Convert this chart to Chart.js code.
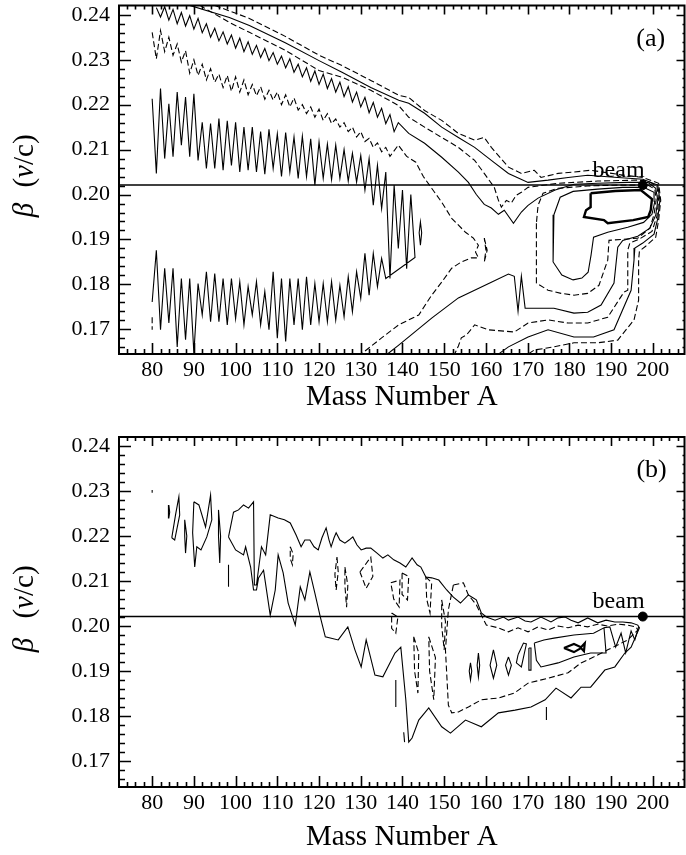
<!DOCTYPE html>
<html>
<head>
<meta charset="utf-8">
<script src="https://cdn.jsdelivr.net/npm/chart.js@4.4.0/dist/chart.umd.min.js"></script>
<style>
  html, body { margin: 0; padding: 0; background: #fff; overflow: hidden; }
  #wrap { position: relative; width: 686px; height: 855px; overflow: hidden; }
  canvas { position: absolute; left: 0; }
  #chartA { top: 0; }
  #chartB { top: 430px; }
</style>
</head>
<body>
<div id="wrap">
  <canvas id="chartA" width="690" height="430"></canvas>
  <canvas id="chartB" width="690" height="425"></canvas>
</div>
<script>
// axis ticks
const X_TICKS = [80, 90, 100, 110, 120, 130, 140, 150, 160, 170, 180, 190, 200];
const Y_TICKS = [0.17, 0.18, 0.19, 0.20, 0.21, 0.22, 0.23, 0.24];
const BEAM_BETA = 0.2021;
const BEAM_A = 197.6;

// ---- panel (a) contours, [A, beta] ----
const A_L1 = [
  [80,.2213],[81,.2047],[82,.2236],[83,.2080],[84,.2202],[85,.2084],[86,.2228],[87,.2110],[88,.2217],[89,.2084],
  [90,.2224],[91,.2076],[92,.2161],[93,.2058],[94,.2158],[95,.2058],[96,.2169],[97,.2054],[98,.2164],[99,.2065],
  [100,.2161],[101,.2050],[102,.2150],[103,.2054],[104,.2150],[105,.2050],[106,.2140],[107,.2045],[108,.2145],[109,.2058],
  [110,.2135],[111,.2040],[112,.2138],[113,.2050],[114,.2128],[115,.2036],[116,.2130],[117,.2040],[118,.2124],[119,.2021],
  [120,.2117],[121,.2036],[122,.2112],[123,.2033],[124,.2110],[125,.2036],[126,.2100],[127,.2030],[128,.2092],[129,.2028],
  [130,.2087],[131,.2010],[132,.2080],[133,.1976],[134,.2065],[135,.1969],[136,.2050],
  [137,.1813],[138,.2021],[139,.1880],[140,.2010],[141,.1835],[142,.2000],[143,.1860],
  [136,.1813],[135,.1858],[134,.1795],[133,.1869],[132,.1776],[131,.1869],[130,.1769],[129,.1828],[128,.1739],[127,.1817],
  [126,.1728],[125,.1798],[124,.1721],[123,.1806],[122,.1717],[121,.1802],[120,.1717],[119,.1802],[118,.1710],[117,.1817],
  [116,.1699],[115,.1813],[114,.1710],[113,.1813],[112,.1673],[111,.1813],[110,.1680],[109,.1828],[108,.1699],[107,.1784],
  [106,.1710],[105,.1806],[104,.1732],[103,.1795],[102,.1710],[101,.1806],[100,.1724],[99,.1813],[98,.1710],[97,.1813],
  [96,.1717],[95,.1824],[94,.1717],[93,.1828],[92,.1732],[91,.1802],[90,.1647],[89,.1813],[88,.1677],[87,.1813],
  [86,.1661],[85,.1836],[84,.1714],[83,.1836],[82,.1699],[81,.1876],[80,.1761]
];
const A_L1_LOOP = [[144.0,.1915],[144.3,.1939],[144.6,.1915],[144.3,.1887],[144.0,.1915]];
const A_DASH_BIT = [[80,.1727],[80,.1699]];

const A_D2 = [
  [80,.2361],[81,.2302],[82,.2365],[83,.2318],[84,.2350],[85,.2310],[86,.2335],[87,.2295],[88,.2320],[89,.2270],
  [90,.2300],[91,.2265],[92,.2290],[93,.2255],[94,.2280],[95,.2250],[96,.2268],[97,.2238],[98,.2265],[99,.2230],
  [100,.2262],[101,.2228],[102,.2255],[103,.2222],[104,.2245],[105,.2220],[106,.2240],[107,.2212],[108,.2232],[109,.2210],
  [110,.2228],[111,.2200],[112,.2222],[113,.2195],[114,.2215],[115,.2188],[116,.2200],[117,.2180],[118,.2195],[119,.2172],
  [120,.2190],[121,.2165],[122,.2180],[123,.2158],[124,.2168],[125,.2150],[126,.2160],[127,.2140],[128,.2150],[129,.2128],
  [130,.2140],[131,.2118],[132,.2125],[133,.2105],[134,.2115],[135,.2095],[136,.2105],[137,.2085],[139,.2110],[141,.2085],
  [143.2,.2072],[145,.2040],[147,.2014],[149.4,.1983],[151.8,.1947],[155.1,.1916],[157,.1903],[158.2,.1887],[157.5,.1872],
  [158.2,.1859],[156.5,.1859],[154.1,.1850],[151.8,.1836],[149.4,.1805],[147,.1776],[143.9,.1732],[139.1,.1710],
  [135,.1681],[130.8,.1650],[129.5,.1640]
];
const A_D2_TIP = [[159.6,.1903],[160.3,.1876],[159.6,.1850],[160.0,.1876],[159.6,.1903]];

const A_SMID = [
  [81,.2416],[82,.2395],[83,.2418],[84,.2388],[85,.2412],[86,.2380],[87,.2405],[88,.2375],[89,.2398],[90,.2368],
  [91,.2392],[92,.2360],[93,.2380],[94,.2350],[95,.2370],[96,.2342],[97,.2362],[98,.2335],[99,.2355],[100,.2326],
  [101,.2348],[102,.2318],[103,.2340],[104,.2312],[105,.2332],[106,.2305],[107,.2325],[108,.2298],[109,.2316],[110,.2290],
  [111,.2308],[112,.2282],[113,.2302],[114,.2272],[115,.2290],[116,.2262],[117,.2282],[118,.2252],[119,.2275],[120,.2245],
  [121,.2268],[122,.2236],[123,.2258],[124,.2228],[125,.2250],[126,.2218],[127,.2240],[128,.2206],[129,.2228],[130,.2195],
  [131,.2216],[132,.2182],[133,.2205],[134,.2172],[135,.2192],[136,.2158],[137,.2178],[138,.2140],[139,.2160],
  [141.5,.2136],[145.3,.2114],[149.4,.2083],[153.4,.2050],[155.8,.2027],[157.7,.2000],[159.6,.1978],[161.3,.1970],
  [163.0,.1956],[164.4,.1965],[166.6,.1936],[168.5,.1961],[170.1,.1976],[172.5,.1992],[176.6,.2010],[181.1,.2023],
  [186.8,.2025],[194.0,.2027],[198.8,.2027],[200.7,.2014],[201.2,.1987],[200.7,.1954],[199.3,.1925],[196.4,.1907],
  [192.8,.1898],[191.6,.1883],[190.7,.1803],[187.6,.1754],[184.4,.1738],[181.1,.1736],[176.3,.1747],[170.1,.1747],
  [169.4,.1747],[168.5,.1818],[167.7,.1740],[166.8,.1818],[165.4,.1823],[161.3,.1805],[153.4,.1770],[147.0,.1725],
  [139.1,.1665],[136.4,.1645],[135.5,.1638]
];

const A_DMID = [
  [91.4,.2421],[98.5,.2383],[103.3,.2361],[111.9,.2321],[120.0,.2276],[125.5,.2261],[132.4,.2232],[139.1,.2198],
  [141.5,.2172],[145.3,.2150],[149.4,.2127],[153.4,.2105],[157.3,.2076],[159.6,.2047],[162.0,.2016],[163.0,.1987],
  [163.7,.1972],[164.9,.1987],[166.1,.1981],[167.2,.1998],[168.5,.2005],[170.1,.2016],[177.3,.2025],[186.8,.2030],
  [196.4,.2032],[198.8,.2030],[201.0,.2019],[201.4,.1987],[201.0,.1952],[199.8,.1918],[196.8,.1901],[194.5,.1892],
  [194.0,.1876],[194.0,.1787],[193.1,.1783],[189.2,.1727],[184.4,.1714],[179.7,.1714],[174.9,.1721],[170.1,.1714],
  [166.8,.1694],[160.6,.1699],[157.3,.1710],[155.4,.1688],[154.1,.1681],[153.4,.1663],[152.5,.1645],[152.2,.1638]
];

const A_SOUT = [
  [89.0,.2421],[98.5,.2394],[103.3,.2376],[111.9,.2338],[120.0,.2298],[125.5,.2272],[132.4,.2238],[139.1,.2210],
  [141.5,.2203],[145.3,.2181],[149.4,.2150],[153.4,.2127],[157.3,.2105],[161.3,.2076],[165.4,.2047],[170.1,.2027],
  [174.9,.2032],[179.7,.2038],[184.4,.2043],[191.6,.2038],[197.6,.2034],[201.2,.2021],[201.7,.1987],[201.2,.1947],
  [200.3,.1912],[197.6,.1892],[195.7,.1881],[195.5,.1854],[194.8,.1787],[190.7,.1699],[185.8,.1683],[181.1,.1683],
  [174.9,.1699],[170.1,.1683],[165.4,.1661],[163.0,.1645],[162.5,.1638]
];

const A_DOUT = [
  [95.0,.2421],[103.3,.2392],[111.9,.2352],[120.0,.2310],[125.5,.2287],[132.4,.2254],[139.1,.2221],[141.5,.2216],
  [145.3,.2187],[149.4,.2165],[153.4,.2136],[157.3,.2121],[159.6,.2127],[161.3,.2105],[165.4,.2061],[168.5,.2047],
  [171.6,.2054],[173.2,.2038],[177.3,.2047],[181.1,.2050],[185.1,.2054],[191.6,.2045],[197.6,.2038],[201.4,.2025],
  [201.9,.1987],[201.4,.1943],[200.7,.1905],[198.3,.1885],[196.8,.1874],[196.6,.1854],[196.6,.1765],[195.5,.1721],
  [191.6,.1676],[186.8,.1670],[181.1,.1670],[176.3,.1661],[171.6,.1654],[170.1,.1645],[169.8,.1638]
];

const A_D1 = [
  [172.1,.1936],[172.1,.1803],[174.9,.1787],[178.0,.1780],[181.1,.1776],[184.4,.1780],[187.1,.1798],[189.2,.1854],
  [189.5,.1898],[196.4,.1903],[199.3,.1925],[200.3,.1956],[200.8,.1987],[200.5,.2012],[198.8,.2021],[191.6,.2021],
  [184.4,.2019],[177.3,.2014],[173.7,.2003],[172.5,.1976],[172.1,.1936]
];

const A_S1 = [
  [176.3,.1955],[176.1,.1850],[178.2,.1821],[180.9,.1810],[183.0,.1814],[184.5,.1827],[185.2,.1865],[185.8,.1905],
  [189.2,.1916],[194.0,.1927],[197.8,.1938],[199.8,.1956],[200.5,.1985],[200.3,.2005],[197.8,.2016],[192.8,.2016],
  [186.8,.2012],[180.9,.2007],[177.8,.1994],[176.3,.1955]
];

const A_THICK = [
  [185.1,.2003],[191.0,.2008],[197.1,.2010],[199.8,.1990],[199.5,.1965],[198.9,.1950],[195.3,.1943],[189.2,.1936],
  [188.3,.1943],[183.5,.1950],[184.0,.1965],[185.1,.1972],[185.1,.2003]
];

// ---- panel (b) contours ----
const B_OUTER = [
  [98.3,.2198],[99.5,.2253],[100.7,.2258],[101.9,.2269],[103.1,.2262],[104.3,.2276],[104.5,.2091],[105.0,.2091],
  [106.2,.2176],[107.2,.2158],[108.3,.2247],[110.2,.2240],[111.7,.2236],[113.1,.2229],[114.5,.2202],[115.7,.2176],
  [116.6,.2191],[117.8,.2191],[118.8,.2176],[119.8,.2169],[120.7,.2196],[121.7,.2218],[122.4,.2191],[122.9,.2176],
  [123.6,.2196],[124.1,.2207],[125.0,.2191],[126.2,.2184],[127.2,.2191],[128.1,.2198],[129.1,.2180],[130.1,.2169],
  [131.3,.2173],[132.4,.2173],[133.9,.2162],[135.3,.2151],[136.5,.2158],[137.9,.2147],[139.4,.2140],[140.8,.2131],
  [142.3,.2151],[143.5,.2136],[144.4,.2131],[145.6,.2109],[147.0,.2107],[148.7,.2102],[150.6,.2080],[152.2,.2064],
  [153.9,.2051],[155.8,.2069],[157.7,.2058],[158.9,.2029],[160.1,.2020],[162.2,.2013],[164.2,.2020],[165.4,.2013],
  [167.7,.2020],[169.4,.2011],[170.8,.2009],[173.2,.2020],[175.6,.2009],[177.3,.2018],[179.0,.2020],[180.4,.2013],
  [182.1,.2007],[184.4,.2018],[186.8,.2007],[188.8,.2013],[190.9,.2009],[192.8,.2009],[194.8,.2007],[196.4,.2002],
  [196.8,.1996],[194.8,.1953],[193.3,.1940],[190.9,.1909],[188.5,.1902],[185.1,.1864],[182.8,.1864],[180.4,.1840],
  [176.8,.1862],[174.2,.1836],[170.8,.1820],[167.0,.1813],[163.0,.1807],[158.9,.1776],[155.1,.1791],[151.5,.1762],
  [149.4,.1776],[146.3,.1818],[143.9,.1791],[142.3,.1751],[141.5,.1742],[140.8,.1836],[139.6,.1953],[138.2,.1940],
  [135.3,.1887],[133.4,.1891],[131.3,.1969],[130.1,.1909],[128.6,.1947],[126.9,.1998],[124.6,.1969],[121.5,.1976],
  [120.3,.2020],[119.0,.2073],[117.8,.2120],[116.6,.2058],[115.5,.2087],[114.3,.2002],[112.6,.2051],[111.4,.2118],
  [110.2,.2158],[109.5,.2080],[108.3,.2024],[106.7,.2124],[105.5,.2107],[105.0,.2080],[104.3,.2080],[103.6,.2131],
  [102.4,.2176],[101.9,.2158],[100.0,.2169],[98.3,.2198]
];

const B_DASH_MAIN = [
  [152.2,.2091],[154.6,.2096],[155.8,.2069],[157.7,.2047],[160.1,.2002],[163.0,.1996],[165.4,.1987],[167.7,.1996],
  [170.1,.1987],[172.5,.1998],[174.9,.1991],[177.3,.2000],[179.7,.1996],[182.1,.2002],[184.4,.1998],[186.8,.2004],
  [189.2,.2000],[191.6,.2004],[194.0,.2002],[196.0,.1998],[196.4,.1991],[194.0,.1969],[191.6,.1958],[189.2,.1947],
  [185.8,.1931],[182.8,.1918],[179.7,.1896],[174.9,.1884],[170.1,.1873],[166.8,.1851],[163.0,.1840],[158.9,.1836],
  [155.8,.1820],[153.4,.1809],[151.8,.1807],[151.0,.1824],[150.3,.1947],[151.0,.2036],[152.2,.2091]
];

const B_INNER = [
  [171.6,.1962],[173.9,.1969],[176.3,.1973],[181.1,.1980],[185.8,.1984],[188.3,.1996],[188.8,.1940],[185.1,.1940],
  [181.1,.1931],[177.3,.1918],[173.2,.1909],[172.1,.1924],[171.6,.1962]
];
const B_INNER_ZIG = [[188.3,.1996],[189.7,.1998],[191.1,.1953],[192.4,.1984],[193.5,.1940],[194.8,.1989],[195.7,.1969],[196.6,.1998]];
const B_FISH = [[178.7,.1951],[181.1,.1960],[182.8,.1953],[183.7,.1962],[183.5,.1944],[182.8,.1951],[181.1,.1942],[178.7,.1951]];

const B_SOLID_BITS = [
  [[80.0,.2302],[80.0,.2296]],
  [[84.0,.2269],[84.2,.2253],[84.0,.2240],[83.8,.2253],[84.0,.2269]],
  [[84.7,.2196],[85.6,.2247],[86.4,.2287],[86.6,.2247],[85.4,.2191],[84.7,.2196]],
  [[87.8,.2236],[88.3,.2200],[88.0,.2162],[87.8,.2200],[87.8,.2236]],
  [[90.0,.2276],[91.2,.2269],[92.8,.2220],[94.0,.2291],[94.3,.2236],[93.1,.2198],[91.7,.2169],[90.7,.2176],[90.2,.2131],[89.7,.2207],[90.0,.2276]],
  [[95.9,.2258],[96.4,.2200],[96.2,.2140],[95.9,.2200],[95.9,.2258]],
  [[98.3,.2136],[98.3,.2087]],
  [[138.4,.1880],[138.4,.1820]],
  [[140.3,.1764],[140.5,.1742]],
  [[174.5,.1820],[174.5,.1791]],
  [[156.3,.1918],[156.6,.1900],[156.3,.1880],[156.0,.1900],[156.3,.1918]],
  [[158.2,.1940],[158.5,.1913],[158.2,.1887],[157.9,.1913],[158.2,.1940]],
  [[161.8,.1947],[162.6,.1913],[161.8,.1884],[161.0,.1913],[161.8,.1947]],
  [[165.4,.1931],[166.1,.1913],[165.4,.1891],[164.7,.1913],[165.4,.1931]],
  [[167.7,.1936],[169.0,.1962],[169.7,.1960],[168.5,.1909],[167.3,.1918],[167.7,.1936]],
  [[170.3,.1951],[170.8,.1951],[170.8,.1902],[170.3,.1902],[170.3,.1951]]
];

const B_DASH_BITS = [
  [[113.1,.2176],[113.8,.2160],[113.6,.2136],[113.1,.2150],[113.1,.2176]],
  [[124.3,.2153],[124.6,.2120],[124.1,.2080],[123.8,.2115],[124.3,.2153]],
  [[126.2,.2131],[126.9,.2090],[126.6,.2042],[126.2,.2090],[126.2,.2131]],
  [[129.8,.2120],[132.4,.2153],[132.9,.2110],[131.3,.2084],[129.8,.2120]],
  [[137.2,.2096],[139.4,.2102],[139.2,.2042],[137.9,.2060],[137.2,.2096]],
  [[137.4,.2029],[138.9,.2020],[138.4,.1984],[137.4,.1995],[137.4,.2029]],
  [[139.9,.2118],[141.5,.2110],[141.2,.2058],[139.9,.2070],[139.9,.2118]],
  [[142.7,.1976],[143.9,.1940],[143.7,.1851],[142.9,.1900],[142.7,.1976]],
  [[145.6,.2109],[147.0,.2096],[146.6,.2029],[145.8,.2060],[145.6,.2109]],
  [[146.3,.1976],[147.9,.1930],[147.5,.1836],[146.5,.1900],[146.3,.1976]],
  [[149.4,.2058],[150.3,.2010],[150.0,.1947],[149.4,.2000],[149.4,.2058]]
];

const FONT = 'Liberation Serif';

function contour(points, dashed, width) {
  return {
    data: points.map(([a, b]) => ({ x: a, y: b })),
    showLine: true,
    pointRadius: 0,
    borderColor: '#000',
    borderWidth: width || 1.1,
    borderDash: dashed ? [6, 3] : [],
    tension: 0,
    fill: false
  };
}

function beamLine() {
  return {
    data: [{ x: 60, y: BEAM_BETA }, { x: 220, y: BEAM_BETA }],
    showLine: true, pointRadius: 0, borderColor: '#000', borderWidth: 1.5
  };
}

function beamDot() {
  return {
    data: [{ x: BEAM_A, y: BEAM_BETA }],
    showLine: false, pointRadius: 4.5, pointBackgroundColor: '#000', pointBorderColor: '#000'
  };
}

// frame, inward ticks, labels
const decorations = {
  id: 'decorations',
  afterDatasetsDraw(chart, args, opts) {
    const { ctx, chartArea: { left, right, top, bottom }, scales: { x, y } } = chart;
    ctx.save();
    ctx.strokeStyle = '#000';
    ctx.fillStyle = '#000';

    ctx.lineWidth = 1.6;
    ctx.beginPath();
    for (let v = 74; v <= 206; v += 2) {
      const px = Math.round(x.getPixelForValue(v)) + 0.5;
      const major = v % 10 === 0;
      ctx.moveTo(px, bottom); ctx.lineTo(px, bottom - (major ? 11 : 5));
      ctx.moveTo(px, top); ctx.lineTo(px, top + (major ? 9 : 4));
    }
    for (let i = 83; i <= 120; i++) {
      const v = i * 0.002;
      const py = Math.round(y.getPixelForValue(v)) + 0.5;
      if (py < top + 2 || py > bottom - 2) continue;
      const major = i % 5 === 0;
      ctx.moveTo(left, py); ctx.lineTo(left + (major ? 12 : 6), py);
      ctx.moveTo(right, py); ctx.lineTo(right - (major ? 8 : 2), py);
    }
    ctx.stroke();

    ctx.lineWidth = 2;
    ctx.strokeRect(left, top, right - left, bottom - top);

    // panel label
    ctx.font = '26px "' + FONT + '"';
    ctx.textAlign = 'center';
    ctx.textBaseline = 'middle';
    ctx.fillText(opts.label, x.getPixelForValue(opts.labelAt[0]), y.getPixelForValue(opts.labelAt[1]));

    // beam text
    ctx.font = '24px "' + FONT + '"';
    ctx.textBaseline = 'alphabetic';
    ctx.fillText('beam', x.getPixelForValue(opts.beamAt[0]), y.getPixelForValue(opts.beamAt[1]));

    // y title: beta (v/c)
    ctx.translate(25, 0);
    ctx.rotate(-Math.PI / 2);
    ctx.textBaseline = 'middle';
    ctx.textAlign = 'center';
    ctx.font = 'italic 29px "' + FONT + '"';
    ctx.fillText('\u03B2', -opts.betaY, 0);
    const parts = [['(', ''], ['v', 'italic '], ['/c)', '']];
    let total = 0;
    parts.forEach(([t, s]) => { ctx.font = s + '29px "' + FONT + '"'; total += ctx.measureText(t).width; });
    let pos = -opts.vcY - total / 2;
    ctx.textAlign = 'left';
    parts.forEach(([t, s]) => {
      ctx.font = s + '29px "' + FONT + '"';
      ctx.fillText(t, pos, 0);
      pos += ctx.measureText(t).width;
    });
    ctx.restore();
  }
};

function makePanel(id, datasets, cfg) {
  return new Chart(document.getElementById(id), {
    type: 'scatter',
    data: { datasets },
    options: {
      responsive: false,
      animation: false,
      devicePixelRatio: 1,
      layout: { padding: { left: 0, right: 3, top: cfg.padTop, bottom: 0 } },
      plugins: {
        legend: { display: false },
        tooltip: { enabled: false },
        decorations: cfg.deco
      },
      scales: {
        x: {
          type: 'linear', min: 72.05, max: 207.6,
          afterBuildTicks: s => { s.ticks = X_TICKS.map(v => ({ value: v })); },
          afterFit: s => { s.height = cfg.xHeight; s.paddingLeft = 0; s.paddingRight = 0; },
          grid: { display: false, drawTicks: false },
          border: { display: false },
          ticks: { color: '#000', font: { family: FONT, size: 22 }, padding: 3, maxRotation: 0, autoSkip: false },
          title: { display: true, text: 'Mass Number A', color: '#000', font: { family: FONT, size: 29 }, padding: { top: 0, bottom: cfg.titlePad } }
        },
        y: {
          type: 'linear', min: cfg.yMin, max: cfg.yMax,
          afterBuildTicks: s => { s.ticks = Y_TICKS.map(v => ({ value: v })); },
          afterFit: s => { s.width = 119; s.paddingTop = 0; s.paddingBottom = 0; },
          grid: { display: false, drawTicks: false },
          border: { display: false },
          ticks: { color: '#000', font: { family: FONT, size: 22 }, padding: 9, callback: v => v.toFixed(2) }
        }
      }
    },
    plugins: [decorations]
  });
}

const setA = [
  beamLine(),
  contour(A_L1, false), contour(A_L1_LOOP, false), contour(A_DASH_BIT, true),
  contour(A_D2, true), contour(A_D2_TIP, true),
  contour(A_SMID, false), contour(A_DMID, true), contour(A_SOUT, false), contour(A_DOUT, true),
  contour(A_D1, true), contour(A_S1, false), contour(A_THICK, false, 2.4),
  beamDot()
];

const setB = [
  beamLine(),
  contour(B_OUTER, false), contour(B_DASH_MAIN, true), contour(B_INNER, false), contour(B_INNER_ZIG, false),
  contour(B_FISH, false, 2.2),
  ...B_SOLID_BITS.map(p => contour(p, false)),
  ...B_DASH_BITS.map(p => contour(p, true)),
  beamDot()
];

makePanel('chartA', setA, {
  padTop: 5, xHeight: 76, titlePad: 15.6, yMin: 0.16451, yMax: 0.24207,
  deco: { label: '(a)', labelAt: [199.5, 0.2345], beamAt: [191.8, 0.20385], betaY: 210, vcY: 161 }
});
makePanel('chartB', setB, {
  padTop: 7, xHeight: 68, titlePad: 0.6, yMin: 0.16422, yMax: 0.2420,
  deco: { label: '(b)', labelAt: [199.7, 0.2347], beamAt: [191.8, 0.2040], betaY: 215, vcY: 162 }
});
</script>
</body>
</html>
